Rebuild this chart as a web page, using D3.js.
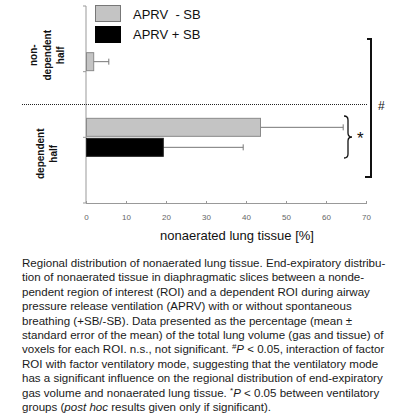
<!DOCTYPE html>
<html>
<head>
<meta charset="utf-8">
<script src="https://cdn.jsdelivr.net/npm/d3@7"></script>
<style>
  body { margin: 0; background: #fff; }
  svg { display: block; font-family: "Liberation Sans", Arial, sans-serif; }
</style>
</head>
<body>
<svg id="chart" width="398" height="419"></svg>
<script>
// data
const categories = [["non-", "dependent", "half"], ["dependent", "half"]];
const series = ["APRV  - SB", "APRV + SB"];
const meanMinusSB = [1.8, 43.5];
const errMinusSB = [3.9, 20.8];
const meanPlusSB = [0, 19.2];
const errPlusSB = [0, 20.1];
const xTicks = [0, 10, 20, 30, 40, 50, 60, 70];
const barColors = ["#c4c4c4", "#000"];

const caption = [
  [["Regional distribution of nonaerated lung tissue. End-expiratory distribu-"]],
  [["tion of nonaerated tissue in diaphragmatic slices between a nonde-"]],
  [["pendent region of interest (ROI) and a dependent ROI during airway"]],
  [["pressure release ventilation (APRV) with or without spontaneous"]],
  [["breathing (+SB/-SB). Data presented as the percentage (mean \u00b1"]],
  [["standard error of the mean) of the total lung volume (gas and tissue) of"]],
  [["voxels for each ROI. n.s., not significant. "], ["#", "sup"], ["P", "i"], [" < 0.05, interaction of factor"]],
  [["ROI with factor ventilatory mode, suggesting that the ventilatory mode"]],
  [["has a significant influence on the regional distribution of end-expiratory"]],
  [["gas volume and nonaerated lung tissue. "], ["*", "sup"], ["P", "i"], [" < 0.05 between ventilatory"]],
  [["groups ("], ["post hoc", "i"], [" results given only if significant)."]]
];

const svg = d3.select("#chart");
const x = d3.scaleLinear().domain([0, 70]).range([86, 366]);
const y = d3.scalePoint().domain([0, 1]).range([6, 203]).padding(1);
const sub = d3.scaleBand().domain([0, 1]).range([-19, 19]).paddingInner(0.1);

// axes
const xAxis = svg.append("g")
  .attr("transform", "translate(0,203)")
  .call(d3.axisBottom(x).tickValues(xTicks).tickSize(3).tickSizeOuter(0));
xAxis.select(".domain").attr("stroke", "#999");
xAxis.selectAll(".tick line").attr("stroke", "#999").attr("y2", -2).attr("y1", 1);
xAxis.selectAll(".tick text").attr("fill", "#666").attr("font-size", 8).attr("y", 11)
  .attr("font-family", "Liberation Sans, Arial, sans-serif");

svg.append("line").attr("x1", 86).attr("x2", 86).attr("y1", 6).attr("y2", 203)
  .attr("stroke", "#999");
const yTickPos = [6].concat(y.domain().map(y)).concat([203]);
svg.selectAll(".ytick").data(yTickPos).join("line")
  .attr("x1", 83).attr("x2", 86).attr("y1", d => d).attr("y2", d => d)
  .attr("stroke", "#999");

svg.append("text").attr("x", 237).attr("y", 240).attr("text-anchor", "middle")
  .attr("font-size", 13).attr("fill", "#111").text("nonaerated lung tissue [%]");

// bars
const rows = [];
categories.forEach((c, i) => {
  rows.push({cat: i, s: 0, v: meanMinusSB[i], e: errMinusSB[i]});
  rows.push({cat: i, s: 1, v: meanPlusSB[i], e: errPlusSB[i]});
});

const errs = svg.append("g");
rows.filter(d => d.e > 0).forEach(d => {
  const cy = y(d.cat) + sub(d.s) + sub.bandwidth() / 2;
  errs.append("line").attr("x1", x(d.v)).attr("x2", x(d.v + d.e))
    .attr("y1", cy).attr("y2", cy).attr("stroke", "#777");
  errs.append("line").attr("x1", x(d.v + d.e)).attr("x2", x(d.v + d.e))
    .attr("y1", cy - 3).attr("y2", cy + 3).attr("stroke", "#777");
});

svg.append("g").selectAll("rect").data(rows.filter(d => d.v > 0)).join("rect")
  .attr("x", x(0) + 0.5)
  .attr("y", d => y(d.cat) + sub(d.s))
  .attr("width", d => x(d.v) - x(0))
  .attr("height", sub.bandwidth())
  .attr("fill", d => barColors[d.s])
  .attr("stroke", d => d.s === 0 ? "#8a8a8a" : "#222")
  .attr("stroke-width", 1);

// category labels, centred in each half
const mid = (y(0) + y(1)) / 2;
const halfCenters = [(6 + mid) / 2, (mid + 203) / 2];
categories.forEach((lines, i) => {
  const t = svg.append("text")
    .attr("transform", `translate(47,${halfCenters[i]}) rotate(-90)`)
    .attr("text-anchor", "middle").attr("font-size", 10).attr("font-weight", "bold")
    .attr("fill", "#111");
  lines.forEach((l, j) => {
    t.append("tspan").attr("x", 0)
      .attr("y", (j - (lines.length - 1) / 2) * 13.5 + 3.5).text(l);
  });
});

// dotted separator
svg.append("line").attr("x1", 22).attr("x2", 368).attr("y1", mid).attr("y2", mid)
  .attr("stroke", "#222").attr("stroke-dasharray", "1,1");

// legend
series.forEach((s, i) => {
  svg.append("rect").attr("x", 95.5).attr("y", 5.5 + i * 21).attr("width", 25).attr("height", 16)
    .attr("fill", barColors[i]).attr("stroke", i === 0 ? "#777" : "#000");
  svg.append("text").attr("x", 133).attr("y", 19 + i * 20).attr("font-size", 13)
    .attr("fill", "#111").style("white-space", "pre").text(s);
});

// significance marks
svg.append("path").attr("d", "M367,39H371V177H365").attr("fill", "none")
  .attr("stroke", "#111").attr("stroke-width", 2);
svg.append("text").attr("x", 378).attr("y", 110).attr("font-size", 12).attr("fill", "#111").text("#");

const by0 = 116, by1 = 158, bm = (by0 + by1) / 2, bx = 344;
svg.append("path")
  .attr("d", `M${bx},${by0} Q${bx + 4},${by0} ${bx + 4},${by0 + 4} V${bm - 4} Q${bx + 4},${bm} ${bx + 8},${bm}
              Q${bx + 4},${bm} ${bx + 4},${bm + 4} V${by1 - 4} Q${bx + 4},${by1} ${bx},${by1}`)
  .attr("fill", "none").attr("stroke", "#111").attr("stroke-width", 1.3);
svg.append("text").attr("x", 357).attr("y", 144).attr("font-size", 17).attr("fill", "#111").text("*");

// caption
const cap = svg.append("g").attr("font-size", 12).attr("fill", "#1a1a1a");
const capTexts = caption.map((segs, i) => {
  const t = cap.append("text").attr("x", 22).attr("y", 267 + i * 14.4);
  segs.forEach(([str, kind]) => {
    const ts = t.append("tspan").text(str);
    if (kind === "i") ts.attr("font-style", "italic");
    if (kind === "sup") ts.attr("font-size", 8).attr("dy", -4);
    if (kind !== "sup") ts.attr("dy", null);
  });
  // reset baseline after a superscript
  t.selectAll("tspan").each(function(d, k, nodes) {
    if (k > 0 && d3.select(nodes[k - 1]).attr("font-size") === "8") d3.select(this).attr("dy", 4);
  });
  return t;
});
const w0 = capTexts[0].node().getComputedTextLength();
cap.attr("font-size", 12 * 364 / w0);
</script>
</body>
</html>
